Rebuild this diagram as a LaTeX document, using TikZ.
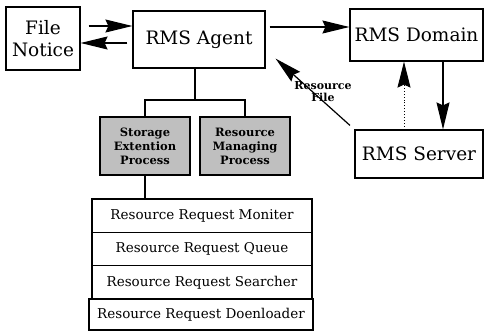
\documentclass[tikz,border=0pt]{standalone}
\usepackage{fontspec}
\setmainfont{DejaVu Serif}
\usetikzlibrary{arrows.meta}
\begin{document}
\begin{tikzpicture}[x=1pt,y=-1pt,
  box/.style={draw,line width=1.2pt,inner sep=0pt,align=center,font=\fontsize{18.5}{22}\selectfont},
  proc/.style={draw,line width=1.2pt,fill=gray!50,inner sep=0pt,minimum width=90pt,minimum height=58pt,align=center,font=\fontsize{11.5}{14}\selectfont\bfseries},
  row/.style={draw,line width=1.2pt,inner sep=0pt,minimum width=220pt,minimum height=33.5pt,font=\fontsize{13.5}{15}\selectfont},
  arr/.style={line width=1.2pt,-{Stealth[length=27pt,width=13pt,inset=3pt]}},
  ln/.style={line width=1.2pt}]
\useasboundingbox (0,0) rectangle (484,332);
\node[box,minimum width=74pt,minimum height=63pt] (fn) at (43,38.5) {File\\Notice};
\node[box,minimum width=132pt,minimum height=57pt] (agent) at (199,39.5) {RMS Agent};
\node[box,minimum width=133pt,minimum height=52pt] (domain) at (416.5,35) {RMS Domain};
\node[box,minimum width=128pt,minimum height=48pt] (server) at (419,154) {RMS Server};
\node[proc] (sep) at (145,146) {Storage\\Extention\\Process};
\node[proc] (rmp) at (245,146) {Resource\\Managing\\Process};
\node[row] (r1) at (202,215.75) {Resource Request Moniter};
\node[row] (r2) at (202,249) {Resource Request Queue};
\node[row] (r3) at (202,282.5) {Resource Request Searcher};
\node[row,minimum width=224pt,minimum height=31pt] (r4) at (201,314.5) {Resource Request Doenloader};
% arrows
\draw[arr,shorten <=8pt] (fn.east |- 0,26) -- (agent.west |- 0,26);
\draw[arr,shorten <=5pt] (agent.west |- 0,43) -- (fn.east |- 0,43);
\draw[arr,shorten <=4pt] (agent.east |- 0,27) -- (domain.west |- 0,27);
\draw[arr] (domain.south -| 443,0) -- (server.north -| 443,0);
\draw[line width=0.9pt,dotted,-{Stealth[length=26pt,width=13pt,inset=3pt]}] (server.north -| 404,0) -- (domain.south -| 404,0);
\draw[arr,shorten <=6pt] (server.north west) -- ([xshift=10pt,yshift=10pt]agent.south east);
\node[font=\fontsize{11}{12}\selectfont\bfseries,align=center,inner sep=0pt] (rf) at (323,92) {Resource\\File};
% tree
\coordinate (j) at (195,100);
\draw[ln] (agent.south -| j) -- (j);
\draw[ln] (sep.north) |- (j) -| (rmp.north);
\draw[ln] (sep.south) -- (r1.north -| sep.south);
\end{tikzpicture}
\end{document}
